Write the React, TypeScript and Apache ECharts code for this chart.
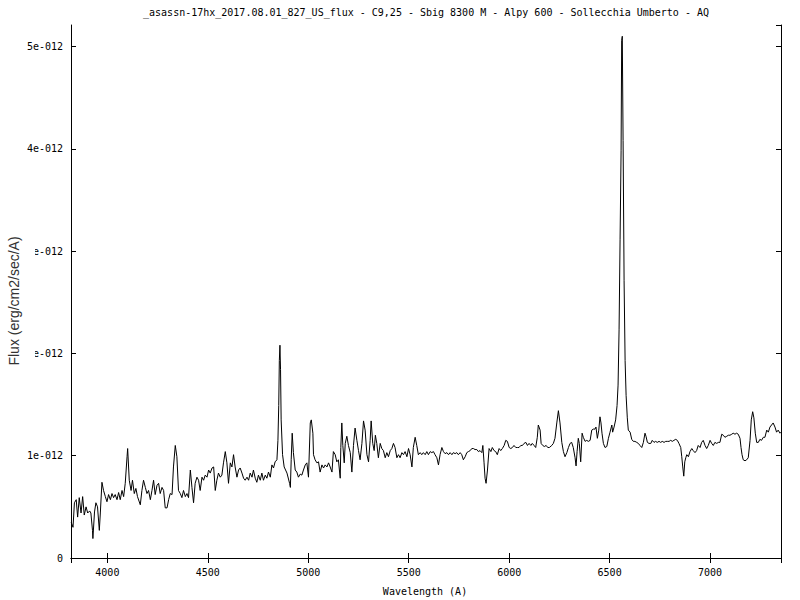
import React, { useEffect, useRef } from "react";
import * as echarts from "echarts";

const TITLE = "_asassn-17hx_2017.08.01_827_US_flux - C9,25 - Sbig 8300 M - Alpy 600 - Sollecchia Umberto - AQ";
const X_NAME = "Wavelength (A)";
const Y_NAME = "Flux (erg/cm2/sec/A)";

const X_MIN = 3819;
const X_MAX = 7353;
const Y_MIN = 0;
const Y_MAX = 5.21; // in units of 1e-12
const Y_TICK_STEP = 1;

// Wavelength in Angstrom
const wavelength = [3820,3829,3836,3845,3852,3860,3869,3877,3885,3894,3902,3912,3918,3926,3928,3936,3943,3951,3960,3965,3973,3981,3990,3998,4006,4015,4023,4031,4039,4048,4056,4064,4073,4081,4089,4098,4101,4109,4118,4125,4134,4142,4150,4164,4172,4180,4189,4197,4205,4214,4222,4230,4238,4247,4255,4263,4272,4280,4288,4297,4305,4313,4322,4329,4338,4346,4354,4363,4371,4379,4388,4396,4404,4413,4421,4429,4437,4446,4454,4462,4471,4479,4487,4496,4504,4512,4521,4529,4537,4545,4553,4562,4570,4578,4587,4595,4603,4612,4620,4628,4636,4645,4653,4661,4670,4678,4686,4695,4703,4711,4720,4727,4736,4744,4752,4761,4769,4777,4786,4794,4802,4811,4819,4827,4835,4844,4849,4853,4856,4859,4862,4865,4872,4880,4894,4907,4911,4915,4920,4926,4935,4943,4951,4960,4968,4976,4985,4993,5001,5010,5015,5023,5026,5034,5043,5051,5059,5068,5076,5084,5093,5101,5109,5118,5125,5134,5142,5150,5159,5162,5167,5172,5179,5184,5192,5200,5209,5217,5225,5233,5242,5250,5258,5267,5275,5283,5292,5300,5308,5313,5321,5328,5334,5341,5349,5358,5366,5374,5383,5391,5399,5408,5416,5424,5432,5441,5449,5457,5466,5474,5482,5491,5499,5507,5516,5523,5532,5540,5548,5557,5565,5573,5582,5590,5598,5607,5615,5623,5631,5640,5648,5656,5665,5673,5681,5690,5698,5706,5715,5722,5731,5739,5747,5756,5764,5772,5781,5789,5797,5806,5814,5822,5830,5839,5847,5855,5864,5869,5875,5880,5885,5892,5900,5909,5916,5925,5933,5941,5950,5958,5966,5975,5983,5991,6000,6008,6016,6024,6033,6041,6049,6058,6066,6074,6083,6091,6099,6108,6115,6124,6132,6140,6145,6154,6159,6167,6175,6184,6192,6200,6212,6220,6228,6237,6245,6253,6262,6270,6278,6287,6295,6303,6311,6319,6328,6333,6338,6344,6349,6356,6363,6369,6378,6386,6394,6403,6411,6419,6427,6432,6439,6446,6452,6457,6462,6469,6477,6486,6494,6502,6511,6515,6522,6530,6537,6542,6547,6552,6557,6560,6563,6567,6572,6577,6582,6588,6593,6602,6610,6618,6626,6635,6643,6651,6660,6668,6676,6681,6688,6696,6705,6712,6721,6729,6737,6746,6754,6762,6771,6779,6787,6796,6804,6812,6820,6829,6837,6845,6854,6859,6864,6869,6874,6879,6884,6892,6900,6909,6916,6925,6933,6941,6950,6958,6966,6975,6983,6991,7000,7008,7016,7024,7033,7041,7049,7058,7066,7074,7083,7091,7099,7108,7115,7124,7132,7140,7149,7154,7159,7165,7174,7182,7190,7199,7205,7212,7218,7225,7232,7240,7248,7256,7265,7273,7282,7290,7298,7306,7314,7323,7331,7339,7348,7353];

// Flux in units of 1e-12 erg/cm2/sec/A
const fluxE12 = [
0.35,0.30,0.54,0.57,0.40,0.59,0.44,0.60,0.42,0.50,
0.44,0.46,0.44,0.27,0.19,0.45,0.54,0.50,0.27,0.44,
0.74,0.66,0.60,0.55,0.62,0.57,0.63,0.59,0.62,0.57,
0.64,0.57,0.66,0.60,0.73,0.99,1.07,0.76,0.66,0.76,
0.63,0.68,0.60,0.52,0.66,0.76,0.69,0.63,0.66,0.57,
0.66,0.76,0.62,0.71,0.73,0.63,0.69,0.66,0.49,0.49,
0.57,0.63,0.62,0.89,1.10,0.99,0.66,0.63,0.59,0.66,
0.60,0.63,0.59,0.86,0.69,0.54,0.73,0.79,0.76,0.66,
0.79,0.76,0.81,0.79,0.86,0.83,0.88,0.89,0.66,0.76,
0.83,0.79,0.81,0.93,1.04,0.93,0.73,0.93,0.89,1.01,
0.89,0.79,0.86,0.88,0.83,0.78,0.76,0.79,0.76,0.83,
0.79,0.86,0.78,0.74,0.81,0.76,0.83,0.76,0.81,0.78,
0.84,0.79,0.91,0.88,0.94,0.96,1.15,1.49,1.93,2.08,
1.84,1.35,1.01,0.89,0.83,0.73,0.69,0.96,1.22,1.03,
0.86,0.84,0.79,0.82,0.81,0.86,0.91,0.93,0.79,1.32,
1.35,1.22,1.01,0.96,0.93,0.94,0.84,0.91,0.88,0.91,
0.89,0.93,0.89,0.84,1.04,1.01,0.94,0.96,0.78,1.08,
1.32,1.10,0.93,1.12,1.19,1.10,1.03,0.84,1.10,1.27,
1.15,1.05,0.96,1.12,1.34,1.25,1.01,0.94,1.15,1.34,
1.12,1.05,1.20,1.12,0.98,1.12,1.07,1.05,0.98,1.03,
0.99,1.05,1.07,1.12,1.08,0.98,1.01,0.98,1.03,1.01,
1.04,0.99,1.07,1.01,0.89,1.08,1.18,1.10,1.01,1.03,
1.01,1.03,1.01,1.04,1.01,1.04,1.03,1.04,1.01,0.98,
0.91,1.01,1.08,1.04,1.02,1.03,1.01,1.03,1.01,1.03,
1.02,1.03,1.01,1.03,1.01,0.96,0.99,1.03,1.04,1.05,
1.07,1.07,1.06,1.06,1.04,1.05,1.03,1.10,0.93,0.78,
0.73,0.86,1.07,1.04,1.08,1.05,1.04,1.01,1.07,1.05,
1.07,1.10,1.15,1.14,1.08,1.07,1.08,1.10,1.08,1.08,
1.08,1.10,1.10,1.12,1.13,1.10,1.12,1.10,1.12,1.10,
1.08,1.18,1.30,1.25,1.12,1.10,1.09,1.10,1.08,1.08,
1.10,1.12,1.17,1.32,1.44,1.32,1.13,1.04,0.99,1.03,
1.08,1.12,1.13,1.08,0.98,0.90,1.04,1.17,1.12,0.94,
1.22,1.18,1.14,1.15,1.14,1.15,1.25,1.26,1.26,1.28,
1.17,1.25,1.38,1.32,1.22,1.12,1.08,1.09,1.17,1.23,
1.30,1.23,1.28,1.35,1.49,1.69,2.23,3.11,3.98,5.06,
5.10,4.08,2.71,1.93,1.59,1.37,1.25,1.23,1.16,1.14,
1.14,1.13,1.12,1.10,1.08,1.13,1.22,1.19,1.13,1.12,
1.12,1.15,1.13,1.14,1.13,1.14,1.13,1.14,1.13,1.14,
1.14,1.14,1.15,1.14,1.15,1.16,1.15,1.12,1.08,0.99,
0.89,0.80,0.94,0.98,1.01,0.99,1.04,1.07,1.05,1.03,
1.05,1.10,1.08,1.13,1.15,1.10,1.07,1.10,1.15,1.12,
1.10,1.13,1.12,1.13,1.13,1.21,1.20,1.18,1.19,1.20,
1.20,1.21,1.22,1.21,1.22,1.21,1.17,1.08,1.01,0.96,
0.95,0.96,0.98,1.15,1.35,1.43,1.37,1.22,1.13,1.13,
1.16,1.15,1.18,1.18,1.25,1.23,1.28,1.30,1.32,1.28,
1.23,1.25,1.22,1.23
];

const MONO = "'DejaVu Sans Mono', 'Liberation Mono', monospace";

export default function App() {
  const ref = useRef<HTMLDivElement>(null);

  useEffect(() => {
    if (!ref.current) return;
    const chart = echarts.init(ref.current, undefined, { renderer: "svg" });
    const n = Math.min(wavelength.length, fluxE12.length);
    const data: [number, number][] = [];
    for (let i = 0; i < n; i++) data.push([wavelength[i], fluxE12[i]]);

    const axisLine = { show: true, lineStyle: { color: "#000", width: 1 } };
    const axisTick = { show: true, inside: true, length: 5, lineStyle: { color: "#000", width: 1 } };
    const gridLeft = 71;
    const gridRight = 19;
    const gridTop = 25;
    const gridBottom = 42;
    const plotCenterX = gridLeft + (800 - gridLeft - gridRight) / 2;

    chart.setOption({
      animation: false,
      backgroundColor: "#fff",
      grid: { left: gridLeft, right: gridRight, top: gridTop, bottom: gridBottom, containLabel: false },
      xAxis: [
        {
          type: "value",
          position: "bottom",
          min: X_MIN,
          max: X_MAX,
          splitNumber: 7,
          axisLine,
          axisTick,
          splitLine: { show: false },
          axisLabel: {
            showMinLabel: false,
            showMaxLabel: false,
            color: "#000",
            fontFamily: MONO,
            fontSize: 10,
            margin: 9,
            formatter: (v: number) => String(Math.round(v)),
          },
        },
        {
          type: "value",
          position: "top",
          min: X_MIN,
          max: X_MAX,
          splitNumber: 7,
          axisLine,
          axisTick,
          splitLine: { show: false },
          axisLabel: { show: false },
        },
      ],
      yAxis: [
        {
          type: "value",
          position: "left",
          min: Y_MIN,
          max: Y_MAX,
          interval: Y_TICK_STEP,
          axisLine,
          axisTick,
          splitLine: { show: false },
          axisLabel: {
            showMaxLabel: false,
            color: "#000",
            fontFamily: MONO,
            fontSize: 10,
            margin: 8,
            formatter: (v: number) => (v === 0 ? "0" : `${Math.round(v)}e-012`),
          },
        },
        {
          type: "value",
          position: "right",
          min: Y_MIN,
          max: Y_MAX,
          interval: Y_TICK_STEP,
          axisLine,
          axisTick,
          splitLine: { show: false },
          axisLabel: { show: false },
        },
      ],
      series: [
        {
          type: "line",
          xAxisIndex: 0,
          yAxisIndex: 0,
          data,
          showSymbol: false,
          symbol: "none",
          lineStyle: { color: "#000", width: 1 },
          clip: true,
        },
      ],
      graphic: [
        {
          type: "text",
          z: 100,
          x: plotCenterX,
          y: 12,
          style: {
            text: TITLE,
            align: "center",
            verticalAlign: "middle",
            fill: "#000",
            font: `10px ${MONO}`,
          },
        },
        {
          type: "text",
          z: 100,
          x: plotCenterX - 1,
          y: 591,
          style: {
            text: X_NAME,
            align: "center",
            verticalAlign: "middle",
            fill: "#000",
            font: `10px ${MONO}`,
          },
        },
        {
          type: "rect",
          z: 100,
          shape: { x: 0, y: 236, width: 35, height: 130 },
          style: { fill: "#fff" },
        },
        {
          type: "text",
          z: 101,
          x: 14,
          y: 301,
          rotation: Math.PI / 2,
          style: {
            text: Y_NAME,
            align: "center",
            verticalAlign: "middle",
            fill: "#333",
            font: "14px 'Liberation Sans', Arial, sans-serif",
          },
        },
      ],
    });

    return () => chart.dispose();
  }, []);

  return (
    <div
      ref={ref}
      style={{ position: "fixed", left: 0, top: 0, width: 800, height: 600 }}
    />
  );
}
